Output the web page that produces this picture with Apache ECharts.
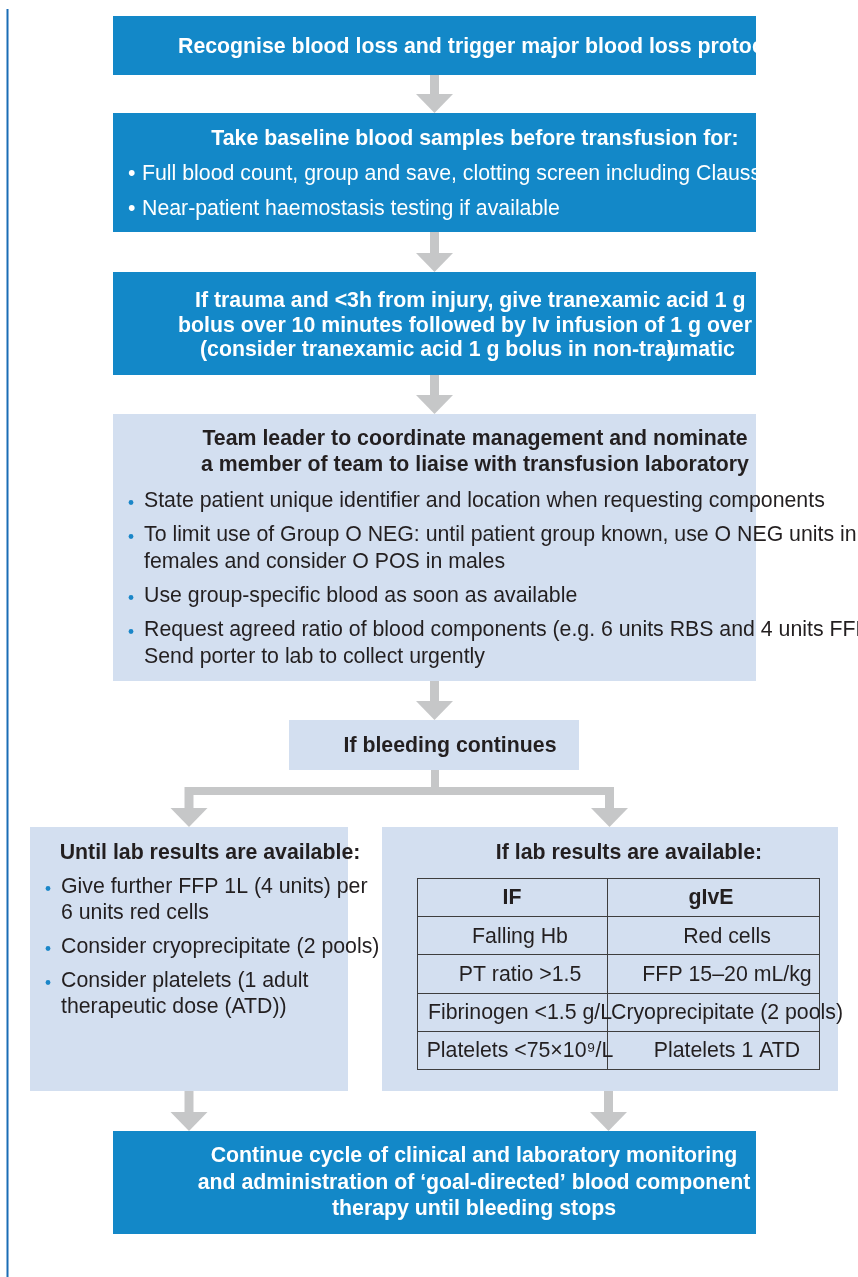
<!DOCTYPE html>
<html><head><meta charset="utf-8">
<script src="https://cdn.jsdelivr.net/npm/echarts@6/dist/echarts.min.js"></script>
<style>html,body{margin:0;padding:0;background:#fff;overflow:hidden}#c{width:858px;height:1277px}</style>
</head><body><div id="c"></div>
<script>
// ---- content ----
const step1Lines = ['Recognise blood loss and trigger major blood loss protocol'];
const step2Heading = ['Take baseline blood samples before transfusion for:'];
const step2Bullets = [
  ['Full blood count, group and save, clotting screen including Clauss fibrinogen'],
  ['Near-patient haemostasis testing if available']
];
const step3Lines = [
  'If trauma and <3h from injury, give tranexamic acid 1 g',
  'bolus over 10 minutes followed by Iv infusion of 1 g over',
  '(consider tranexamic acid 1 g bolus in non-traumatic'
];
const step4Heading = [
  'Team leader to coordinate management and nominate',
  'a member of team to liaise with transfusion laboratory'
];
const step4Bullets = [
  ['State patient unique identifier and location when requesting components'],
  ['To limit use of Group O NEG: until patient group known, use O NEG units in', 'females and consider O POS in males'],
  ['Use group-specific blood as soon as available'],
  ['Request agreed ratio of blood components (e.g. 6 units RBS and 4 units FFP)', 'Send porter to lab to collect urgently']
];
const step5Lines = ['If bleeding continues'];
const leftHeading = ['Until lab results are available:'];
const leftBullets = [
  ['Give further FFP 1L (4 units) per', '6 units red cells'],
  ['Consider cryoprecipitate (2 pools)'],
  ['Consider platelets (1 adult', 'therapeutic dose (ATD))']
];
const rightHeading = ['If lab results are available:'];
const tableHeader = ['IF', 'gIvE'];
const tableIf = ['Falling Hb', 'PT ratio >1.5', 'Fibrinogen <1.5 g/L', 'Platelets <75×10⁹/L'];
const tableGive = ['Red cells', 'FFP 15–20 mL/kg', 'Cryoprecipitate (2 pools)', 'Platelets 1 ATD'];
const finalLines = [
  'Continue cycle of clinical and laboratory monitoring',
  'and administration of ‘goal-directed’ blood component',
  'therapy until bleeding stops'
];

// ---- styles & layout ----
const DARK = '#1388c8', LIGHT = '#d3dff0', ARROW = '#c6c7c8', INK = '#231f20', DOT = '#1a86c8', RULE = '#3e3e3e';
const FAM = '"Liberation Sans", Arial, Helvetica, sans-serif';
const FS = 21.3, DY = 1.5;
const els = [];
function box(x, y, w, h, fill, z) {
  els.push({type: 'rect', shape: {x, y, width: w, height: h}, style: {fill}, z: z || 1, silent: true});
}
function txt(x, y, s, fill, bold, align) {
  els.push({type: 'text', x, y: y + DY, z: 5, silent: true,
    style: {text: s, fill, font: (bold ? 'bold ' : '') + FS + 'px ' + FAM,
      textAlign: align || 'left', textVerticalAlign: 'middle'}});
}
function dot(x, y) {
  els.push({type: 'circle', shape: {cx: x, cy: y + DY, r: 2.4}, style: {fill: DOT}, z: 5, silent: true});
}
function arrow(cx, y0, y1) {
  const head = 19, hw = 18.5, sw = 4.5;
  box(cx - sw, y0, sw * 2, y1 - y0 - head + 0.5, ARROW, 2);
  els.push({type: 'polygon', shape: {points: [[cx - hw, y1 - head], [cx + hw, y1 - head], [cx, y1]]}, style: {fill: ARROW}, z: 2, silent: true});
}
function hline(x0, x1, y) {
  els.push({type: 'line', shape: {x1: x0, y1: y, x2: x1, y2: y}, style: {stroke: RULE, lineWidth: 1}, z: 4, silent: true});
}
function vline(x, y0, y1) {
  els.push({type: 'line', shape: {x1: x, y1: y0, x2: x, y2: y1}, style: {stroke: RULE, lineWidth: 1}, z: 4, silent: true});
}

// left margin rule
box(6.5, 9, 2, 1268, '#1a6db5', 1);

const BX = 113, BW = 643, CX = 474;
// step 1
box(BX, 16, BW, 59, DARK);
step1Lines.forEach((s) => txt(178, 46, s, '#fff', true));
arrow(434.5, 75, 113);
// step 2
box(BX, 113, BW, 119, DARK);
step2Heading.forEach((s) => txt(CX + 1, 138, s, '#fff', true, 'center'));
step2Bullets.forEach((b, i) => {
  txt(128, 173 + i * 35, '•', '#fff', false);
  b.forEach((s, j) => txt(142, 173 + i * 35 + j * 27, s, '#fff', false));
});
arrow(434.5, 232, 272);
// step 3
box(BX, 272, BW, 103, DARK);
const s3x = [195, 178, 200];
step3Lines.forEach((s, i) => txt(s3x[i], 300 + i * 24.5, s, '#fff', true));
txt(667, 349, ')', '#fff', true);
arrow(434.5, 375, 414);
// step 4
box(BX, 414, BW, 267, LIGHT);
step4Heading.forEach((s, i) => txt(CX + 1, 438 + i * 26, s, INK, true, 'center'));
let y4 = 500;
step4Bullets.forEach((b) => {
  dot(131, y4 + 1);
  b.forEach((s, j) => txt(144, y4 + j * 27, s, INK, false));
  y4 += (b.length - 1) * 27 + 34;
});
arrow(434.5, 681, 720);
// step 5
box(289, 720, 290, 50, LIGHT);
step5Lines.forEach((s) => txt(450, 745, s, INK, true, 'center'));
// branch
box(431, 770, 8, 25, ARROW, 2);
box(185.5, 787, 427.5, 8, ARROW, 2);
arrow(189, 787, 827);
arrow(609.5, 787, 827);
// left panel
box(30, 827, 318, 264, LIGHT);
leftHeading.forEach((s) => txt(210, 852, s, INK, true, 'center'));
let yl = 886;
leftBullets.forEach((b) => {
  dot(48, yl + 1);
  b.forEach((s, j) => txt(61, yl + j * 26, s, INK, false));
  yl += (b.length - 1) * 26 + 34;
});
// right panel
box(382, 827, 456, 264, LIGHT);
rightHeading.forEach((s) => txt(629, 852, s, INK, true, 'center'));
const TX0 = 417, TX1 = 819, TXM = 607, TY0 = 878, RH = 38.2;
const nRows = tableIf.length + 1;
for (let r = 0; r <= nRows; r++) hline(TX0, TX1, Math.round(TY0 + r * RH) + 0.5);
vline(TX0 + 0.5, TY0, TY0 + nRows * RH + 1);
vline(TXM + 0.5, TY0, TY0 + nRows * RH + 1);
vline(TX1 + 0.5, TY0, TY0 + nRows * RH + 1);
txt(512, TY0 + RH / 2, tableHeader[0], INK, true, 'center');
txt(711, TY0 + RH / 2, tableHeader[1], INK, true, 'center');
tableIf.forEach((s, i) => txt(520, TY0 + (i + 1.5) * RH, s, INK, false, 'center'));
tableGive.forEach((s, i) => txt(727, TY0 + (i + 1.5) * RH, s, INK, false, 'center'));
// bottom arrows
arrow(189, 1091, 1131);
arrow(608.5, 1091, 1131);
// final
box(BX, 1131, BW, 103, DARK);
finalLines.forEach((s, i) => txt(CX, 1155 + i * 26.5, s, '#fff', true, 'center'));
// clip dark boxes on the right
[[16, 59], [113, 119], [272, 103]].forEach(([y, h]) => box(756, y, 110, h, '#fff', 9));

const chart = echarts.init(document.getElementById('c'), null, {renderer: 'canvas'});
chart.setOption({animation: false, backgroundColor: '#fff', graphic: {elements: els}});
</script></body></html>
